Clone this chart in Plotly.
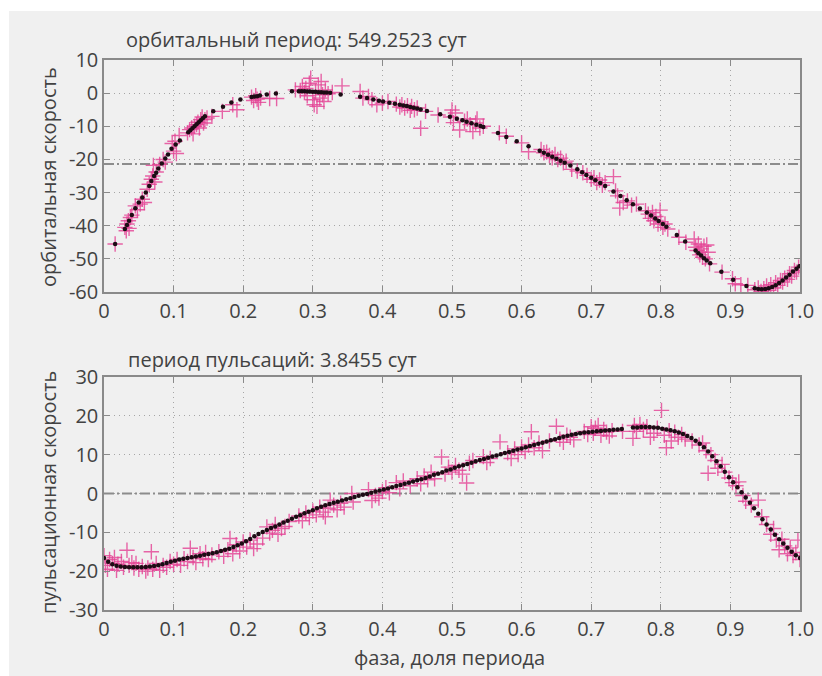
import plotly.graph_objects as go

# ---------------- data ----------------
TITLE_TOP = "орбитальный период: 549.2523 сут"
TITLE_BOTTOM = "период пульсаций: 3.8455 сут"
YTITLE_TOP = "орбитальная скорость"
YTITLE_BOTTOM = "пульсационная скорость"
XTITLE = "фаза, доля периода"

x_tickvals = [0, 0.1, 0.2, 0.3, 0.4, 0.5, 0.6, 0.7, 0.8, 0.9, 1.0]
x_ticktext = ["0", "0.1", "0.2", "0.3", "0.4", "0.5", "0.6", "0.7", "0.8", "0.9", "1.0"]
y_top_tickvals = [10, 0, -10, -20, -30, -40, -50, -60]
y_top_ticktext = ["10", "0", "-10", "-20", "-30", "-40", "-50", "-60"]
y_bot_tickvals = [30, 20, 10, 0, -10, -20, -30]
y_bot_ticktext = ["30", "20", "10", "0", "-10", "-20", "-30"]

level_top = -21.4     # systemic velocity line, orbital panel
level_bottom = 0.0    # zero line, pulsation panel

# orbital velocity: observations (pink crosses)
orb_obs_phase = [
    0.016, 0.030, 0.032, 0.033, 0.035, 0.036, 0.038, 0.040, 0.045, 0.048, 0.052, 0.055, 0.058,
    0.062, 0.065, 0.068, 0.070, 0.071, 0.073, 0.075, 0.080, 0.085, 0.088, 0.098, 0.100, 0.102,
    0.104, 0.108, 0.120, 0.123, 0.126, 0.128, 0.130, 0.133, 0.135, 0.137, 0.139, 0.141, 0.143,
    0.145, 0.148, 0.155, 0.170, 0.185, 0.191, 0.212, 0.215, 0.218, 0.220, 0.222, 0.225, 0.238,
    0.248, 0.275, 0.282, 0.285, 0.288, 0.290, 0.292, 0.295, 0.297, 0.300, 0.302, 0.304, 0.306,
    0.308, 0.310, 0.312, 0.314, 0.316, 0.318, 0.322, 0.328, 0.342, 0.368, 0.372, 0.380, 0.385,
    0.392, 0.400, 0.408, 0.420, 0.425, 0.428, 0.432, 0.436, 0.440, 0.442, 0.446, 0.450, 0.455,
    0.462, 0.480, 0.498, 0.500, 0.502, 0.505, 0.511, 0.518, 0.522, 0.526, 0.530, 0.534, 0.536,
    0.540, 0.545, 0.568, 0.578, 0.600, 0.610, 0.628, 0.632, 0.636, 0.640, 0.644, 0.648, 0.652,
    0.656, 0.660, 0.664, 0.672, 0.680, 0.688, 0.694, 0.700, 0.704, 0.708, 0.712, 0.716, 0.720,
    0.732, 0.735, 0.738, 0.741, 0.746, 0.752, 0.758, 0.765, 0.778, 0.782, 0.785, 0.788, 0.790,
    0.793, 0.796, 0.799, 0.800, 0.803, 0.806, 0.810, 0.826, 0.836, 0.848, 0.850, 0.852, 0.854,
    0.856, 0.858, 0.860, 0.862, 0.864, 0.866, 0.868, 0.870, 0.888, 0.903, 0.907, 0.915, 0.925,
    0.935, 0.940, 0.944, 0.948, 0.952, 0.955, 0.958, 0.962, 0.965, 0.968, 0.972, 0.975, 0.978,
    0.982, 0.985, 0.988, 0.992, 0.995, 0.998,
]
orb_obs_vel = [
    -45.5, -40.5, -41.5, -39.5, -38.5, -40.8, -37.5, -36.8, -34.0, -35.2, -33.5, -32.0, -33.0,
    -29.0, -27.5, -26.0, -25.0, -21.8, -26.8, -23.8, -21.5, -20.0, -20.8, -15.2, -17.5, -14.5,
    -18.2, -12.8, -12.0, -11.0, -10.5, -12.3, -10.0, -9.5, -8.8, -10.5, -8.0, -7.2, -9.0,
    -8.0, -7.5, -7.0, -5.5, -3.5, -5.0, -1.2, -2.2, -0.8, -1.8, -2.8, -1.5, -1.6,
    -1.6, 1.0, 0.8, 2.0, 0.2, 1.4, -0.8, 3.0, 4.5, -2.0, -3.5, 0.5, -4.0,
    2.5, -1.5, 3.5, -0.5, -2.5, 1.0, -0.2, 0.2, 2.2, 0.5, -1.5, -1.0, -2.0,
    -3.5, -3.0, -2.5, -3.3, -4.2, -3.5, -4.5, -3.8, -5.2, -4.0, -5.0, -4.5, -10.6,
    -5.5, -6.6, -7.2, -5.1, -8.9, -6.0, -11.1, -8.5, -7.8, -9.5, -11.6, -9.0, -7.8,
    -10.5, -10.0, -12.0, -13.0, -15.0, -17.7, -17.0, -18.0, -17.8, -18.8, -19.5, -18.5, -20.0,
    -19.6, -21.0, -20.5, -23.0, -23.5, -24.0, -24.8, -26.0, -25.5, -27.0, -26.2, -27.8, -27.0,
    -25.2, -29.5, -31.0, -34.7, -33.0, -32.5, -33.8, -33.5, -35.5, -36.5, -37.8, -36.0, -38.5,
    -37.2, -39.5, -35.3, -38.8, -40.5, -39.5, -41.0, -43.5, -45.0, -44.0, -46.5, -47.5, -45.5,
    -48.8, -47.0, -49.5, -46.2, -50.0, -45.8, -48.0, -51.5, -54.0, -56.0, -57.5, -57.8, -58.0,
    -59.3, -58.8, -59.8, -59.0, -58.2, -59.5, -57.8, -58.8, -57.2, -58.0, -56.5, -57.0, -55.8,
    -56.2, -54.5, -55.2, -53.5, -54.0, -52.5,
]

# orbital velocity: model values (black dots)
orb_fit_phase = [
    0.016, 0.030, 0.033, 0.036, 0.040, 0.045, 0.050, 0.055, 0.060, 0.065, 0.068, 0.072, 0.075,
    0.078, 0.083, 0.088, 0.092, 0.097, 0.103, 0.109, 0.121, 0.124, 0.127, 0.130, 0.133, 0.136,
    0.139, 0.142, 0.145, 0.157, 0.171, 0.183, 0.196, 0.212, 0.216, 0.220, 0.224, 0.234, 0.247,
    0.270, 0.280, 0.284, 0.288, 0.292, 0.296, 0.300, 0.304, 0.308, 0.312, 0.316, 0.320, 0.325,
    0.340, 0.368, 0.378, 0.387, 0.395, 0.401, 0.410, 0.418, 0.425, 0.430, 0.435, 0.440, 0.445,
    0.450, 0.455, 0.464, 0.483, 0.497, 0.507, 0.515, 0.521, 0.528, 0.535, 0.541, 0.545, 0.566,
    0.578, 0.593, 0.610, 0.626, 0.632, 0.638, 0.644, 0.650, 0.656, 0.662, 0.670, 0.680, 0.687,
    0.693, 0.700, 0.706, 0.713, 0.720, 0.732, 0.742, 0.751, 0.760, 0.770, 0.780, 0.786, 0.792,
    0.797, 0.803, 0.808, 0.823, 0.835, 0.850, 0.854, 0.858, 0.862, 0.866, 0.871, 0.887, 0.904,
    0.923, 0.935, 0.940, 0.945, 0.950, 0.955, 0.960, 0.965, 0.970, 0.975, 0.980, 0.985, 0.990,
    0.995, 0.999,
]
orb_fit_vel = [
    -45.5, -41.0, -39.8, -38.5, -36.8, -34.7, -33.0, -31.5, -30.0, -28.0, -26.5, -25.0, -24.0,
    -22.7, -21.2, -19.7, -18.5, -16.8, -15.5, -14.3, -11.8, -11.2, -10.6, -10.0, -9.4, -8.8,
    -8.2, -7.6, -7.0, -5.5, -4.1, -2.8, -1.9, -1.2, -1.0, -0.9, -0.7, -0.4, -0.1,
    0.6, 0.6, 0.6, 0.6, 0.5, 0.5, 0.4, 0.4, 0.3, 0.3, 0.2, 0.2, 0.1,
    -0.4, -1.1, -1.5, -1.9, -2.3, -2.5, -2.9, -3.2, -3.5, -3.7, -3.9, -4.2, -4.4,
    -4.6, -4.9, -5.4, -6.4, -7.1, -7.7, -8.2, -8.6, -9.1, -9.5, -9.9, -10.2, -12.0,
    -13.2, -14.5, -16.0, -17.4, -18.0, -18.6, -19.2, -19.8, -20.4, -21.0, -21.8, -23.0, -23.9,
    -24.7, -25.5, -26.3, -27.1, -28.0, -29.7, -31.0, -32.3, -33.5, -34.8, -36.0, -36.9, -37.8,
    -38.6, -39.5, -40.3, -42.8, -44.8, -47.5, -48.3, -49.0, -49.8, -50.5, -51.3, -53.9, -56.3,
    -58.2, -58.9, -59.1, -59.2, -59.1, -58.9, -58.5, -58.0, -57.3, -56.5, -55.6, -54.8, -53.8,
    -53.0, -52.2,
]

# pulsation velocity: observations (pink crosses)
pul_obs_phase = [
    0.000, 0.002, 0.005, 0.008, 0.012, 0.015, 0.018, 0.020, 0.025, 0.028, 0.033, 0.036, 0.040,
    0.043, 0.046, 0.050, 0.055, 0.060, 0.063, 0.068, 0.070, 0.075, 0.080, 0.085, 0.090, 0.095,
    0.100, 0.105, 0.110, 0.115, 0.120, 0.124, 0.128, 0.132, 0.138, 0.142, 0.146, 0.150, 0.155,
    0.165, 0.172, 0.178, 0.181, 0.185, 0.190, 0.195, 0.200, 0.205, 0.210, 0.215, 0.220, 0.228,
    0.234, 0.238, 0.242, 0.246, 0.250, 0.255, 0.260, 0.266, 0.280, 0.285, 0.290, 0.295, 0.300,
    0.305, 0.310, 0.315, 0.318, 0.322, 0.325, 0.330, 0.335, 0.340, 0.345, 0.356, 0.358, 0.380,
    0.385, 0.390, 0.395, 0.400, 0.405, 0.410, 0.420, 0.425, 0.430, 0.440, 0.450, 0.455, 0.460,
    0.465, 0.470, 0.475, 0.485, 0.490, 0.495, 0.500, 0.505, 0.510, 0.515, 0.521, 0.525, 0.530,
    0.545, 0.550, 0.555, 0.569, 0.580, 0.585, 0.590, 0.595, 0.600, 0.605, 0.610, 0.614, 0.618,
    0.625, 0.630, 0.640, 0.650, 0.655, 0.660, 0.665, 0.670, 0.675, 0.690, 0.695, 0.700, 0.703,
    0.706, 0.710, 0.714, 0.718, 0.722, 0.726, 0.730, 0.745, 0.760, 0.762, 0.765, 0.770, 0.775,
    0.780, 0.785, 0.790, 0.795, 0.801, 0.805, 0.808, 0.812, 0.815, 0.820, 0.825, 0.830, 0.835,
    0.845, 0.855, 0.860, 0.865, 0.868, 0.872, 0.878, 0.882, 0.888, 0.892, 0.898, 0.903, 0.908,
    0.912, 0.918, 0.922, 0.930, 0.940, 0.945, 0.952, 0.958, 0.962, 0.966, 0.970, 0.974, 0.978,
    0.982, 0.986, 0.990, 0.994, 0.997, 1.000,
]
pul_obs_vel = [
    -16.0, -18.5, -19.5, -17.0, -18.0, -16.5, -19.8, -18.2, -17.5, -19.0, -14.6, -18.5, -17.8,
    -19.2, -18.0, -19.5, -18.8, -20.0, -19.2, -15.0, -19.5, -18.0, -19.8, -18.5, -19.0, -17.5,
    -18.2, -17.0, -18.5, -16.8, -17.5, -14.1, -16.5, -17.8, -15.5, -16.8, -15.2, -17.0, -15.8,
    -15.0, -16.2, -14.5, -11.6, -15.5, -13.2, -14.8, -12.5, -13.8, -12.0, -14.2, -13.0, -11.5,
    -8.6, -10.2, -9.5, -8.0, -10.5, -9.0, -8.5, -7.2, -5.8, -7.0, -5.0, -6.2, -4.5,
    -5.5, -3.5, -4.8, -6.0, -3.8, -1.7, -3.0, -4.2, -2.5, -3.5, 0.0, -2.2, 1.0,
    -1.8, -0.5, -1.2, 0.5, 1.5, 0.2, 2.8, 1.2, 3.2, 2.0, 3.8, 2.5, 4.5,
    3.5, 5.5, 3.8, 9.4, 5.0, 6.8, 5.5, 7.2, 6.0, 5.0, 2.7, 7.8, 8.5,
    9.5, 8.0, 9.0, 13.3, 10.5, 9.0, 11.5, 10.0, 12.0, 10.8, 12.5, 15.9, 11.8,
    13.0, 11.0, 13.5, 17.3, 14.0, 13.2, 15.0, 14.5, 13.8, 16.0, 15.2, 17.2, 15.5,
    16.8, 17.5, 15.0, 16.5, 15.8, 14.8, 16.2, 16.0, 14.2, 17.5, 16.0, 17.8, 16.5,
    17.2, 14.5, 15.5, 16.8, 21.4, 15.0, 11.8, 16.2, 13.5, 15.8, 14.5, 15.2, 14.0,
    13.5, 12.5, 13.0, 11.0, 5.2, 10.0, 8.5, 6.5, 7.5, 5.5, 4.0, 2.8, 2.0,
    3.0, -0.5, -2.0, -3.0, -1.7, -6.0, -8.0, -10.5, -9.0, -12.0, -14.5, -11.8, -13.5,
    -15.5, -14.0, -16.0, -15.2, -12.0, -17.0,
]

# pulsation velocity: model values (black dots)
pul_fit_phase = [
    0.000, 0.006, 0.012, 0.018, 0.024, 0.030, 0.036, 0.042, 0.048, 0.054, 0.060, 0.066, 0.072,
    0.078, 0.084, 0.090, 0.096, 0.102, 0.108, 0.114, 0.120, 0.126, 0.132, 0.138, 0.144, 0.150,
    0.156, 0.162, 0.168, 0.174, 0.180, 0.186, 0.192, 0.198, 0.204, 0.210, 0.216, 0.222, 0.228,
    0.234, 0.240, 0.246, 0.252, 0.258, 0.264, 0.270, 0.276, 0.282, 0.288, 0.294, 0.300, 0.306,
    0.312, 0.318, 0.324, 0.330, 0.336, 0.342, 0.348, 0.354, 0.360, 0.366, 0.372, 0.378, 0.384,
    0.390, 0.396, 0.402, 0.408, 0.414, 0.420, 0.426, 0.432, 0.438, 0.444, 0.450, 0.456, 0.462,
    0.468, 0.474, 0.480, 0.486, 0.492, 0.498, 0.504, 0.510, 0.516, 0.522, 0.528, 0.534, 0.540,
    0.546, 0.552, 0.558, 0.564, 0.570, 0.576, 0.582, 0.588, 0.594, 0.600, 0.606, 0.612, 0.618,
    0.624, 0.630, 0.636, 0.642, 0.648, 0.654, 0.660, 0.666, 0.672, 0.678, 0.684, 0.690, 0.696,
    0.702, 0.708, 0.714, 0.720, 0.726, 0.732, 0.738, 0.744, 0.760, 0.766, 0.772, 0.778, 0.784,
    0.790, 0.796, 0.802, 0.808, 0.814, 0.820, 0.826, 0.832, 0.838, 0.844, 0.850, 0.856, 0.862,
    0.868, 0.874, 0.880, 0.886, 0.892, 0.898, 0.904, 0.910, 0.916, 0.922, 0.928, 0.934, 0.940,
    0.946, 0.952, 0.958, 0.964, 0.970, 0.976, 0.982, 0.988, 0.994, 1.000,
]
pul_fit_vel = [
    -16.6, -17.6, -18.2, -18.6, -18.8, -18.9, -19.0, -19.0, -19.0, -19.0, -18.9, -18.8, -18.7,
    -18.5, -18.2, -17.9, -17.6, -17.3, -17.0, -16.8, -16.6, -16.4, -16.2, -16.0, -15.8, -15.6,
    -15.4, -15.1, -14.8, -14.5, -14.2, -13.8, -13.3, -12.9, -12.3, -11.7, -11.0, -10.4, -9.9,
    -9.4, -8.9, -8.5, -8.0, -7.5, -7.0, -6.5, -6.0, -5.6, -5.1, -4.7, -4.3, -3.8,
    -3.4, -3.0, -2.7, -2.4, -2.1, -1.8, -1.5, -1.2, -0.9, -0.6, -0.3, -0.1, 0.2,
    0.5, 0.8, 1.0, 1.3, 1.6, 1.9, 2.2, 2.5, 2.8, 3.1, 3.4, 3.7, 4.0,
    4.4, 4.8, 5.1, 5.5, 5.9, 6.2, 6.6, 7.0, 7.3, 7.6, 7.9, 8.3, 8.6,
    8.9, 9.2, 9.5, 9.8, 10.1, 10.4, 10.7, 11.0, 11.3, 11.6, 11.9, 12.2, 12.5,
    12.8, 13.1, 13.4, 13.7, 14.0, 14.3, 14.6, 14.9, 15.1, 15.3, 15.5, 15.7, 15.8,
    15.9, 16.0, 16.1, 16.2, 16.3, 16.4, 16.5, 16.6, 17.0, 17.0, 17.1, 17.1, 17.1,
    17.0, 16.9, 16.7, 16.5, 16.3, 16.0, 15.7, 15.3, 14.8, 14.3, 13.6, 12.8, 11.9,
    10.8, 9.6, 8.3, 7.0, 5.6, 4.2, 2.9, 1.6, 0.3, -1.0, -2.4, -3.8, -5.2,
    -6.6, -8.0, -9.3, -10.6, -11.8, -12.9, -14.0, -15.0, -15.9, -16.6,
]

# ---------------- styling ----------------
W, H = 822, 676
BG = "#f0f0f0"
FONT = "Open Sans"
TXT = "#424242"
AXC = "#8a8a8a"
GRIDC = "#a6a6a6"
CROSS = "rgba(228,64,148,0.8)"
DOT = "#1c0c14"
REFC = "#8c8c8c"

def px_x(p):
    return p / W

def px_y(p):
    return 1 - p / H

fig = go.Figure()

def add_panel(xa, ya, obs_x, obs_y, fit_x, fit_y, level):
    fig.add_trace(go.Scatter(
        x=[0, 1], y=[level, level], mode="lines", xaxis=xa, yaxis=ya,
        line=dict(color=REFC, width=2, dash="10px,3px,2px,3px"),
        hoverinfo="skip", showlegend=False))
    fig.add_trace(go.Scatter(
        x=obs_x, y=obs_y, mode="markers", xaxis=xa, yaxis=ya,
        marker=dict(symbol="cross-thin", size=11, line=dict(color=CROSS, width=1.4)),
        showlegend=False))
    fig.add_trace(go.Scatter(
        x=fit_x, y=fit_y, mode="markers", xaxis=xa, yaxis=ya,
        marker=dict(symbol="circle", size=4.5, color=DOT, line=dict(width=0)),
        showlegend=False))

add_panel("x", "y", orb_obs_phase, orb_obs_vel, orb_fit_phase, orb_fit_vel, level_top)
add_panel("x2", "y2", pul_obs_phase, pul_obs_vel, pul_fit_phase, pul_fit_vel, level_bottom)

common_x = dict(
    range=[0, 1], tickvals=x_tickvals, ticktext=x_ticktext, automargin=False,
    showline=True, linecolor=AXC, linewidth=1.5, mirror="ticks",
    ticks="inside", ticklen=6, tickcolor=AXC, tickwidth=1,
    showgrid=True, gridcolor=GRIDC, griddash="1px,4px", gridwidth=1,
    zeroline=False, tickfont=dict(family=FONT, size=20, color=TXT),
    domain=[px_x(104), px_x(800)],
)
common_y = dict(
    showline=True, linecolor=AXC, linewidth=1.5, mirror="ticks", automargin=False,
    ticks="inside", ticklen=6, tickcolor=AXC, tickwidth=1,
    showgrid=True, gridcolor=GRIDC, griddash="1px,4px", gridwidth=1,
    zeroline=False, tickfont=dict(family=FONT, size=20, color=TXT),
)

fig.update_layout(
    width=W, height=H,
    margin=dict(l=0, r=0, t=0, b=0, autoexpand=False),
    paper_bgcolor="white", plot_bgcolor=BG,
    font=dict(family=FONT, color=TXT),
    xaxis=dict(**common_x, anchor="y"),
    yaxis=dict(**common_y, range=[-60, 10], tickvals=y_top_tickvals, ticktext=y_top_ticktext,
               domain=[px_y(292), px_y(60)], anchor="x"),
    xaxis2=dict(**common_x, anchor="y2"),
    yaxis2=dict(**common_y, range=[-30, 30], tickvals=y_bot_tickvals, ticktext=y_bot_ticktext,
                domain=[px_y(610), px_y(377)], anchor="x2"),
    shapes=[dict(type="rect", xref="paper", yref="paper", layer="below",
                 x0=px_x(9), x1=1, y0=0, y1=px_y(11), fillcolor=BG, line=dict(width=0))],
    annotations=[
        dict(text=TITLE_TOP, xref="paper", yref="paper", x=px_x(124), y=px_y(40),
             xanchor="left", yanchor="middle", showarrow=False, font=dict(size=20, color=TXT)),
        dict(text=TITLE_BOTTOM, xref="paper", yref="paper", x=px_x(126), y=px_y(359),
             xanchor="left", yanchor="middle", showarrow=False, font=dict(size=20, color=TXT)),
        dict(text=YTITLE_TOP, xref="paper", yref="paper", x=px_x(48), y=px_y(177),
             xanchor="center", yanchor="middle", textangle=-90, showarrow=False,
             font=dict(size=20, color=TXT)),
        dict(text=YTITLE_BOTTOM, xref="paper", yref="paper", x=px_x(48), y=px_y(493),
             xanchor="center", yanchor="middle", textangle=-90, showarrow=False,
             font=dict(size=20, color=TXT)),
        dict(text=XTITLE, xref="paper", yref="paper", x=px_x(449), y=px_y(657),
             xanchor="center", yanchor="middle", showarrow=False, font=dict(size=20, color=TXT)),
    ],
)

fig.write_html("out.html")
